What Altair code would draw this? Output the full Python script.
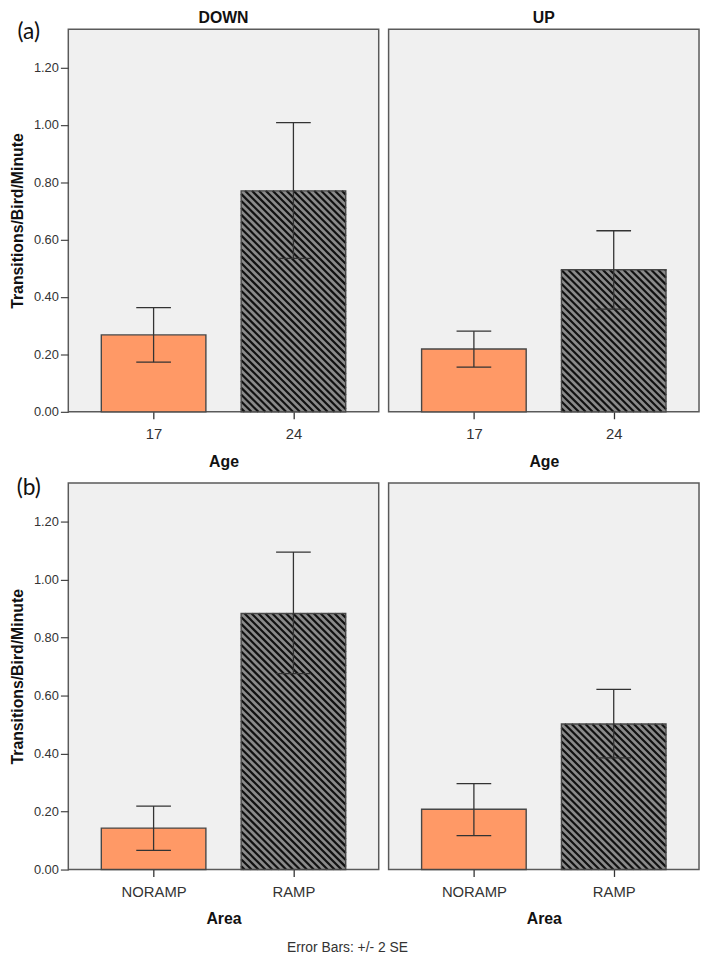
import json
import altair as alt
import pandas as pd

# ---------------- data ----------------
PANELS = ["DOWN", "UP"]

CATS_A = ["17", "24"]
A_DOWN_MEAN = [0.268, 0.770]
A_DOWN_LO = [0.173, 0.535]
A_DOWN_HI = [0.363, 1.008]
A_UP_MEAN = [0.219, 0.495]
A_UP_LO = [0.156, 0.358]
A_UP_HI = [0.281, 0.631]

CATS_B = ["NORAMP", "RAMP"]
B_DOWN_MEAN = [0.143, 0.883]
B_DOWN_LO = [0.066, 0.676]
B_DOWN_HI = [0.219, 1.095]
B_UP_MEAN = [0.208, 0.502]
B_UP_LO = [0.117, 0.385]
B_UP_HI = [0.296, 0.621]

Y_TICKS = [0.0, 0.2, 0.4, 0.6, 0.8, 1.0, 1.2]

# ---------------- styling / layout ----------------
FONT = "Liberation Sans"
ORANGE = "#FF9966"
GRAY = "#8a8a8a"
PANEL_W = 314
H_A = 387
H_B = 391
YMAX = 1.333
XDOM = [-0.61, 1.61]
BAR_HALF = 0.374
CAP_HALF = 0.124
HATCH_STEP_PX = 7.0


def hatch_segments(center, top, height):
    """Diagonal '\\' hatching lines clipped to a bar, in data units."""
    sx = PANEL_W / (XDOM[1] - XDOM[0])
    sy = height / YMAX
    X0 = (center - BAR_HALF - XDOM[0]) * sx
    X1 = (center + BAR_HALF - XDOM[0]) * sx
    Yt = top * sy
    rows = []
    c = X0 + HATCH_STEP_PX / 2
    while c < X1 + Yt:
        xa = max(X0, c - Yt)
        xb = min(X1, c)
        if xb > xa:
            rows.append({
                "hx1": xa / sx + XDOM[0], "hy1": (c - xa) / sy,
                "hx2": xb / sx + XDOM[0], "hy2": (c - xb) / sy,
            })
        c += HATCH_STEP_PX
    return pd.DataFrame(rows)


def panel(cats, mean, lo, hi, height, xtitle, title=None, title_offset=2,
          yaxis=True, tag=None, tag_y=-8):
    n = len(cats)
    df = pd.DataFrame({"i": list(range(n)), "cat": cats, "mean": mean, "lo": lo, "hi": hi})
    xscale = alt.Scale(domain=XDOM, nice=False, zero=False)
    yscale = alt.Scale(domain=[0, YMAX], nice=False, zero=False)
    x_axis = alt.Axis(
        values=list(range(n)), labelExpr=f"{json.dumps(cats)}[datum.value]",
        title=xtitle, grid=False, domain=False, tickSize=7, tickColor="#333",
        tickWidth=1.3, labelFontSize=15, labelFont=FONT, labelColor="#333",
        labelPadding=8, titleFont=FONT, titleFontSize=16, titleFontWeight="bold",
        titleColor="#111", titlePadding=12,
    )
    if yaxis:
        y_axis = alt.Axis(
            values=Y_TICKS, format=".2f", title="Transitions/Bird/Minute",
            grid=False, domain=False, tickSize=8, tickColor="#444", tickWidth=1.2,
            labelFontSize=13, labelFont=FONT, labelColor="#333", labelPadding=2,
            titleFont=FONT, titleFontSize=16, titleFontWeight="bold",
            titleColor="#111", titlePadding=8,
        )
    else:
        y_axis = None

    def X(f):
        return alt.X(f, type="quantitative", scale=xscale, axis=x_axis)

    def Y(f):
        return alt.Y(f, type="quantitative", scale=yscale, axis=y_axis)

    base = alt.Chart(df).transform_calculate(
        xl=f"datum.i - {BAR_HALF}", xr=f"datum.i + {BAR_HALF}",
        cl=f"datum.i - {CAP_HALF}", cr=f"datum.i + {CAP_HALF}", z="0",
    )
    bars = base.mark_rect().encode(
        x=X("xl"), x2="xr", y=Y("mean"), y2="z:Q",
        fill=alt.Fill("cat:N", scale=alt.Scale(domain=cats, range=[ORANGE, GRAY]), legend=None),
    )
    hdf = hatch_segments(1, mean[1], height)
    hatch = alt.Chart(hdf).mark_rule(color="#111", strokeWidth=2.2).encode(
        x=X("hx1"), x2="hx2", y=Y("hy1"), y2="hy2"
    )
    outline = base.mark_rect(fillOpacity=0, stroke="#474747", strokeWidth=1.4).encode(
        x=X("xl"), x2="xr", y=Y("mean"), y2="z:Q"
    )
    err = base.mark_rule(color="#333", strokeWidth=1.3).encode(x=X("i"), y=Y("lo"), y2="hi")
    cap_lo = base.mark_rule(color="#333", strokeWidth=1.3).encode(x=X("cl"), x2="cr", y=Y("lo"))
    cap_hi = base.mark_rule(color="#333", strokeWidth=1.3).encode(x=X("cl"), x2="cr", y=Y("hi"))
    layers = [bars, hatch, outline, err, cap_lo, cap_hi]
    if tag:
        t = alt.Chart(pd.DataFrame({"t": [tag]})).mark_text(
            font="Lato", fontSize=23, color="#111", align="center", baseline="top"
        ).encode(x=alt.value(-40), y=alt.value(tag_y), text="t:N")
        layers.append(t)
    props = dict(width=PANEL_W, height=height)
    if title:
        props["title"] = alt.TitleParams(
            title, font=FONT, fontSize=16, fontWeight="bold", color="#111",
            anchor="middle", offset=title_offset,
        )
    return alt.layer(*layers).properties(**props)


row_a = alt.hconcat(
    panel(CATS_A, A_DOWN_MEAN, A_DOWN_LO, A_DOWN_HI, H_A, "Age", title=PANELS[0],
          title_offset=-4.5, yaxis=True, tag="(a)", tag_y=-8),
    panel(CATS_A, A_UP_MEAN, A_UP_LO, A_UP_HI, H_A, "Age", title=PANELS[1],
          title_offset=3.5, yaxis=False),
    spacing=8,
)
row_b = alt.hconcat(
    panel(CATS_B, B_DOWN_MEAN, B_DOWN_LO, B_DOWN_HI, H_B, "Area", yaxis=True, tag="(b)", tag_y=-6),
    panel(CATS_B, B_UP_MEAN, B_UP_LO, B_UP_HI, H_B, "Area", yaxis=False),
    spacing=8,
)

chart = alt.vconcat(
    row_a, row_b, spacing=6,
    title=alt.TitleParams(
        "Error Bars: +/- 2 SE", orient="bottom", anchor="middle", font=FONT,
        fontSize=14, fontWeight="normal", color="#333", offset=14, dx=-7,
    ),
).properties(
    padding={"top": -5, "left": 0, "right": 0, "bottom": 0}
).configure_view(
    fill="#f0f0f0", stroke="#5a5a5a", strokeWidth=1.5
)

chart.save("out.html", embed_options={"renderer": "svg", "actions": False})
